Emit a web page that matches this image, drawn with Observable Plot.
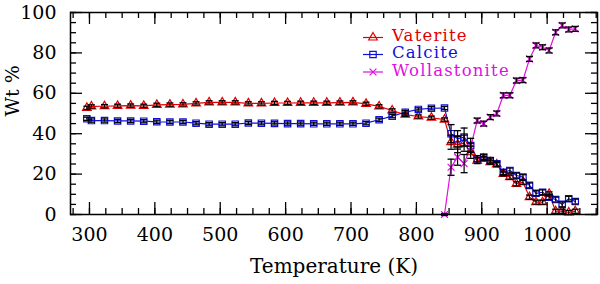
<!DOCTYPE html>
<html><head><meta charset="utf-8">
<script src="https://cdn.jsdelivr.net/npm/d3@7"></script>
<script src="https://cdn.jsdelivr.net/npm/@observablehq/plot@0.6"></script>
<style>
body{margin:0;background:#fff}
#wrap{position:relative;width:600px;height:284px}
#legend{position:absolute;left:0;top:0;pointer-events:none}
</style>
</head><body><div id="wrap"><div id="chart"></div><svg id="legend" width="600" height="284"></svg></div>
<script>
// ---- data ----
const temperature = [296, 303, 323, 343, 363, 383, 403, 423, 443, 463, 483, 503, 523, 543, 563, 583, 603, 623, 643, 663, 683, 703, 723, 743, 763, 783, 803, 823, 843,
  853, 863, 873, 883, 893, 903, 913, 923, 933, 943, 953, 963, 973, 983, 993, 1003, 1013, 1023, 1033, 1043];
const vaterite = [52.8, 53.5, 53.6, 53.8, 53.9, 53.8, 54.3, 54.4, 54.5, 55.0, 55.5, 55.5, 55.5, 55.0, 55.0, 55.2, 55.2, 55.3, 55.3, 55.3, 55.4, 55.5, 54.8, 53.5, 51.5, 49.4, 48.5, 47.9, 47.0,
  35.8, 34.6, 35.3, 30.8, 26.7, 27.6, 25.9, 24.8, 20.1, 18.5, 15.2, 16.0, 8.6, 6.1, 6.1, 10.2, 1.6, 1.6, 1.0, 1.6];
const calcite = [47.4, 46.5, 46.5, 46.3, 46.3, 46.2, 45.9, 45.8, 45.8, 45.2, 44.7, 44.7, 44.7, 45.3, 45.2, 45.1, 45.0, 45.0, 44.9, 44.9, 44.9, 44.9, 45.2, 46.9, 48.7, 50.6, 52.0, 52.6, 52.7,
  40.0, 37.5, 38.3, 34.2, 27.6, 28.4, 26.7, 25.1, 20.9, 21.8, 19.3, 18.5, 14.4, 10.5, 11.0, 8.6, 7.4, 5.0, 7.8, 6.4];
const wollastonite = [null, null, null, null, null, null, null, null, null, null, null, null, null, null, null, null, null, null, null, null, null, null, null, null, null, null, null, null, 0,
  23.4, 28.4, 25.2, 33.3, 46.5, 45.0, 48.2, 50.0, 59.0, 59.0, 66.3, 66.5, 77.0, 83.7, 82.8, 81.2, 90.2, 93.6, 91.6, 91.9];
const vateriteErr = [0.8, 0.8, 0.8, 0.8, 0.8, 0.8, 0.8, 0.8, 0.8, 0.8, 0.8, 0.8, 0.8, 0.8, 0.8, 0.8, 0.8, 0.8, 0.8, 0.8, 0.8, 0.8, 0.8, 0.8, 0.8, 0.8, 0.8, 0.8, 0.8,
  3.5, 4, 4, 3, 1.5, 1, 1, 1, 1, 1, 1, 1, 1, 1, 1, 1, 1, 1, 1, 1];
const calciteErr = [0.8, 0.8, 0.8, 0.8, 0.8, 0.8, 0.8, 0.8, 0.8, 0.8, 0.8, 0.8, 0.8, 0.8, 0.8, 0.8, 0.8, 0.8, 0.8, 0.8, 0.8, 0.8, 0.8, 0.8, 0.8, 0.8, 0.8, 0.8, 0.8,
  4.5, 4, 4.5, 3.5, 1.5, 1.2, 1.2, 1.2, 1.2, 1.2, 1.2, 1.2, 1.2, 1.2, 1.2, 1.2, 1.2, 1.2, 1.2, 1.2];
const wollastoniteErr = [null, null, null, null, null, null, null, null, null, null, null, null, null, null, null, null, null, null, null, null, null, null, null, null, null, null, null, null, 0.5,
  4, 4, 4.5, 2, 1.2, 1.2, 1.2, 1.2, 1.2, 1.2, 1.2, 1.2, 1.2, 1.2, 1.2, 1.2, 1.2, 1.2, 1.2, 1.2];
const seriesNames = ["Vaterite", "Calcite", "Wollastonite"];
const seriesColors = ["#e00000", "#1010d8", "#e010e0"];
const seriesSymbols = ["triangle", "square", "times"];
const xMajorTicks = [300, 400, 500, 600, 700, 800, 900, 1000];
const xMinorTicks = d3.range(275, 1076, 25);
const yMajorTicks = [0, 20, 40, 60, 80, 100];
const yMinorTicks = d3.range(0, 101, 5);
const xTitle = "Temperature (K)";
const yTitle = "Wt %";

// ---- build table ----
const valueLists = [vaterite, calcite, wollastonite];
const errLists = [vateriteErr, calciteErr, wollastoniteErr];
const rows = seriesNames.flatMap((name, s) =>
  temperature.map((t, i) => ({series: name, t, v: valueLists[s][i], e: errLists[s][i]}))
    .filter(d => d.v != null));

const width = 600, height = 284;
const margin = {top: 12, right: 3, bottom: 70, left: 70};
const plotW = width - margin.left - margin.right;
const plotH = height - margin.top - margin.bottom;
const majorLen = 12, minorLen = 6;
const capSymbol = {draw(ctx, size) { const w = Math.sqrt(size / Math.PI); ctx.moveTo(-w, 0); ctx.lineTo(w, 0); }};

const marks = [];
seriesNames.forEach((name, s) => {
  const data = rows.filter(d => d.series === name);
  marks.push(Plot.line(data, {x: "t", y: "v", stroke: seriesColors[s], strokeWidth: 1.2}));
});
seriesNames.forEach((name, s) => {
  const data = rows.filter(d => d.series === name);
  marks.push(Plot.dot(data, {x: "t", y: "v", symbol: () => seriesSymbols[s], stroke: seriesColors[s], fill: "none", r: s === 0 ? 3.2 : s === 1 ? 3.6 : 3.2, strokeWidth: 1.2}));
});
// error bars
marks.push(Plot.ruleX(rows, {x: "t", y1: d => d.v - d.e, y2: d => d.v + d.e, stroke: "black", strokeWidth: 1.2}));
marks.push(Plot.dot(rows, {x: "t", y: d => d.v - d.e, symbol: capSymbol, r: 3.5, stroke: "black", strokeWidth: 1.3, fill: "none"}));
marks.push(Plot.dot(rows, {x: "t", y: d => d.v + d.e, symbol: capSymbol, r: 3.5, stroke: "black", strokeWidth: 1.3, fill: "none"}));
// inward ticks on all four sides
marks.push(Plot.ruleX(xMajorTicks, {x: d => d, insetTop: plotH - majorLen, stroke: "black", strokeWidth: 1.3}));
marks.push(Plot.ruleX(xMajorTicks, {x: d => d, insetBottom: plotH - majorLen, stroke: "black", strokeWidth: 1.3}));
marks.push(Plot.ruleX(xMinorTicks, {x: d => d, insetTop: plotH - minorLen, stroke: "black", strokeWidth: 1.3}));
marks.push(Plot.ruleX(xMinorTicks, {x: d => d, insetBottom: plotH - minorLen, stroke: "black", strokeWidth: 1.3}));
marks.push(Plot.ruleY(yMajorTicks, {y: d => d, insetRight: plotW - majorLen, stroke: "black", strokeWidth: 1.3}));
marks.push(Plot.ruleY(yMajorTicks, {y: d => d, insetLeft: plotW - majorLen, stroke: "black", strokeWidth: 1.3}));
marks.push(Plot.ruleY(yMinorTicks, {y: d => d, insetRight: plotW - minorLen, stroke: "black", strokeWidth: 1.3}));
marks.push(Plot.ruleY(yMinorTicks, {y: d => d, insetLeft: plotW - minorLen, stroke: "black", strokeWidth: 1.3}));
marks.push(Plot.frame({stroke: "black", strokeWidth: 1.5}));
// tick labels
marks.push(Plot.axisX(xMajorTicks, {anchor: "bottom", tickSize: 0, tickPadding: 13, tickFormat: d => String(d), label: null}));
marks.push(Plot.axisY(yMajorTicks, {anchor: "left", tickSize: 0, tickPadding: 14, tickFormat: d => String(d), label: null}));
// axis titles
marks.push(Plot.text([xTitle], {text: d => d, frameAnchor: "bottom", dy: 58, fontSize: 20, letterSpacing: "1px"}));
marks.push(Plot.text([yTitle], {text: d => d, frameAnchor: "left", dx: -58, dy: 3, rotate: -90, fontSize: 19, letterSpacing: "1px"}));

const chart = Plot.plot({
  width, height,
  marginTop: margin.top, marginRight: margin.right, marginBottom: margin.bottom, marginLeft: margin.left,
  x: {domain: [271, 1077], axis: null},
  y: {domain: [0, 100], axis: null},
  style: {fontFamily: "DejaVu Serif", fontSize: "19px", color: "black", background: "white"},
  marks
});
document.getElementById("chart").append(chart);

// legend (inside the frame, top)
const legend = d3.select("#legend");
const legendRows = [{lineY: 37.5, baseY: 40.5}, {lineY: 54.5, baseY: 58}, {lineY: 72, baseY: 76}];
const d3Symbols = [d3.symbolTriangle, d3.symbolSquare, d3.symbolTimes];
const symSizes = [32, 41, 32];
seriesNames.forEach((name, s) => {
  const r = legendRows[s];
  const g = legend.append("g");
  g.append("line").attr("x1", 363).attr("x2", 383).attr("y1", r.lineY).attr("y2", r.lineY)
    .attr("stroke", seriesColors[s]).attr("stroke-width", 1.2);
  g.append("path").attr("d", d3.symbol(d3Symbols[s], symSizes[s])()).attr("transform", `translate(373,${r.lineY})`)
    .attr("fill", "none").attr("stroke", seriesColors[s]).attr("stroke-width", 1.2);
  g.append("text").attr("x", 392).attr("y", r.baseY).attr("fill", seriesColors[s])
    .attr("font-family", "DejaVu Serif").attr("font-size", 16.5).attr("letter-spacing", "1.2px").text(name);
});
</script>
</body></html>
